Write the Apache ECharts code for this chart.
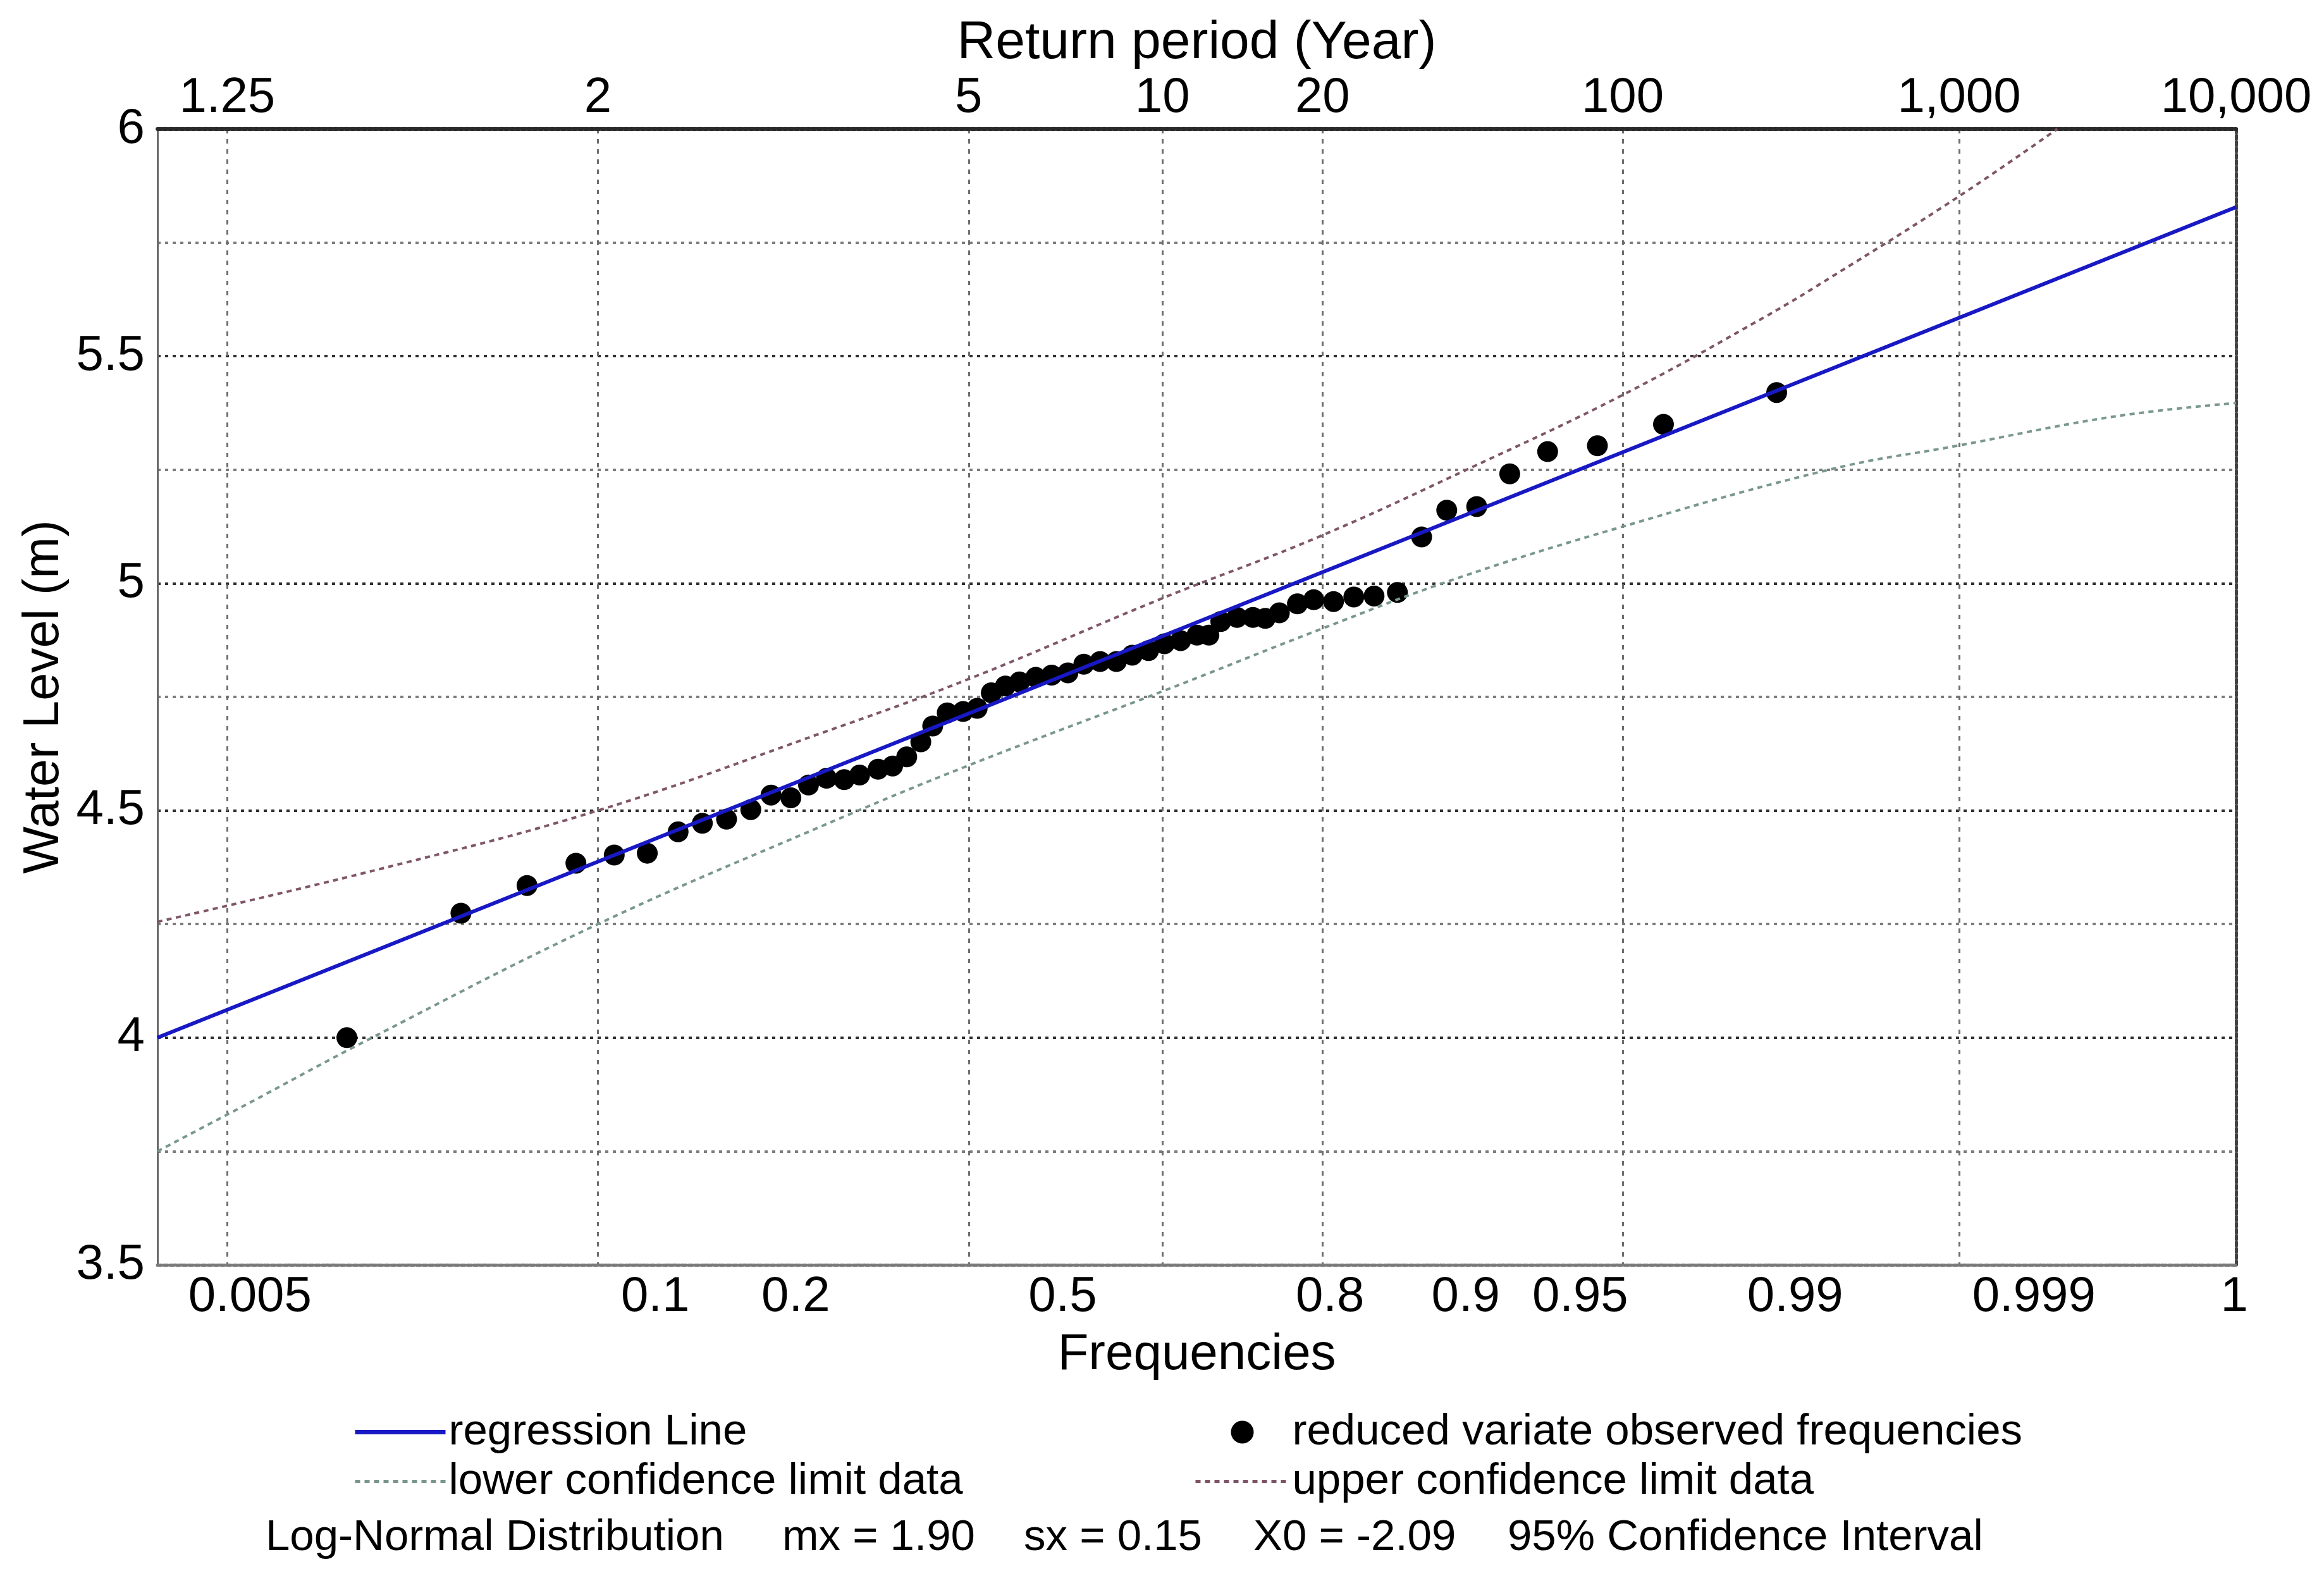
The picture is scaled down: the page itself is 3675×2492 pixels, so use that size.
<!DOCTYPE html>
<html>
<head>
<meta charset="utf-8">
<script src="https://cdn.jsdelivr.net/npm/echarts@6/dist/echarts.min.js"></script>
<style>
html,body{margin:0;padding:0;background:#ffffff;}
#chart{width:3675px;height:2492px;}
</style>
</head>
<body>
<div id="chart"></div>
<script>
// ---------- data (x values are normal reduced variates) ----------
const returnPeriods = [1.25, 2, 5, 10, 20, 100, 1000, 10000];
const returnPeriodLabels = ['1.25', '2', '5', '10', '20', '100', '1,000', '10,000'];
const frequencyLabels = ['0.005', '0.1', '0.2', '0.5', '0.8', '0.9', '0.95', '0.99', '0.999', '1'];
const frequencyLabelPositions = [-0.79, 0.13, 0.449, 1.055, 1.662, 1.97, 2.23, 2.718, 3.26, 3.715];

const observedZ = [-0.570, -0.311, -0.161, -0.050, 0.037, 0.112, 0.182, 0.237, 0.292, 0.347,
  0.393, 0.438, 0.478, 0.519, 0.559, 0.594, 0.636, 0.669, 0.701, 0.733,
  0.760, 0.793, 0.829, 0.861, 0.893, 0.925, 0.957, 0.994, 1.030, 1.067,
  1.103, 1.140, 1.177, 1.213, 1.250, 1.286, 1.323, 1.360, 1.387, 1.414,
  1.451, 1.487, 1.515, 1.547, 1.588, 1.625, 1.670, 1.716, 1.762, 1.815,
  1.870, 1.927, 1.995, 2.070, 2.156, 2.269, 2.419, 2.676];
const observedLevel = [4.000, 4.274, 4.335, 4.384, 4.402, 4.406, 4.453, 4.472, 4.481, 4.502,
  4.534, 4.528, 4.556, 4.571, 4.568, 4.578, 4.591, 4.598, 4.618, 4.651,
  4.686, 4.715, 4.718, 4.725, 4.759, 4.774, 4.783, 4.793, 4.798, 4.803,
  4.822, 4.828, 4.828, 4.842, 4.852, 4.867, 4.874, 4.886, 4.886, 4.916,
  4.925, 4.925, 4.923, 4.935, 4.955, 4.964, 4.960, 4.970, 4.972, 4.980,
  5.102, 5.161, 5.169, 5.241, 5.290, 5.303, 5.350, 5.420];

const regressionZ = [-1.0, 3.719];
const regressionLevel = [4.00, 5.828];

const upperZ = [-1.0, -0.5, 0.0, 0.509, 0.838, 1.286, 1.633, 1.985, 2.323, 2.652, 2.803, 3.087, 3.313];
const upperLevel = [4.255, 4.37, 4.50, 4.671, 4.788, 4.969, 5.101, 5.256, 5.413, 5.588, 5.676, 5.85, 6.0];

const lowerZ = [-1.0, -0.804, -0.523, 0.0, 0.509, 0.838, 1.286, 1.643, 1.941, 2.323, 2.803, 3.087, 3.441, 3.719];
const lowerLevel = [3.75, 3.85, 3.995, 4.25, 4.466, 4.598, 4.764, 4.90, 5.008, 5.124, 5.252, 5.303, 5.367, 5.397];

const footerTexts = ['Log-Normal Distribution', 'mx = 1.90', 'sx = 0.15', 'X0 = -2.09', '95% Confidence Interval'];

// ---------- helpers ----------
function normInv(p) {
  const a = [-3.969683028665376e+01, 2.209460984245205e+02, -2.759285104469687e+02, 1.383577518672690e+02, -3.066479806614716e+01, 2.506628277459239e+00];
  const b = [-5.447609879822406e+01, 1.615858368580409e+02, -1.556989798598866e+02, 6.680131188771972e+01, -1.328068155288572e+01];
  const c = [-7.784894002430293e-03, -3.223964580411365e-01, -2.400758277161838e+00, -2.549732539343734e+00, 4.374664141464968e+00, 2.938163982698783e+00];
  const d = [7.784695709041462e-03, 3.224671290700398e-01, 2.445134137142996e+00, 3.754408661907416e+00];
  const pl = 0.02425, ph = 1 - pl;
  let q, r;
  if (p < pl) {
    q = Math.sqrt(-2 * Math.log(p));
    return (((((c[0]*q+c[1])*q+c[2])*q+c[3])*q+c[4])*q+c[5]) / ((((d[0]*q+d[1])*q+d[2])*q+d[3])*q+1);
  }
  if (p <= ph) {
    q = p - 0.5; r = q * q;
    return (((((a[0]*r+a[1])*r+a[2])*r+a[3])*r+a[4])*r+a[5])*q / (((((b[0]*r+b[1])*r+b[2])*r+b[3])*r+b[4])*r+1);
  }
  q = Math.sqrt(-2 * Math.log(1 - p));
  return -(((((c[0]*q+c[1])*q+c[2])*q+c[3])*q+c[4])*q+c[5]) / ((((d[0]*q+d[1])*q+d[2])*q+d[3])*q+1);
}
const returnPeriodZ = returnPeriods.map(t => normInv(1 - 1 / t));
const X_MIN = -1.0;
const X_MAX = returnPeriodZ[returnPeriodZ.length - 1];

function pairs(xs, ys) { return xs.map((x, i) => [x, ys[i]]); }
function lookup(values, labels, v) {
  for (let i = 0; i < values.length; i++) if (Math.abs(values[i] - v) < 1e-6) return labels[i];
  return '';
}

const FONT = '"Liberation Sans", Arial, sans-serif';
const UPPER_COLOR = '#7f5668';
const LOWER_COLOR = '#7a978d';
const REG_COLOR = '#1818c4';

const chart = echarts.init(document.getElementById('chart'));
const option = {
  animation: false,
  backgroundColor: '#ffffff',
  textStyle: { fontFamily: FONT, color: '#000' },
  grid: { left: 249, right: 139, top: 204, bottom: 492, containLabel: false },
  xAxis: [
    {
      type: 'value', position: 'bottom', min: X_MIN, max: X_MAX,
      name: 'Frequencies', nameLocation: 'middle', nameGap: 103,
      nameTextStyle: { fontSize: 80, color: '#000', fontFamily: FONT },
      axisLine: { show: true, onZero: false, lineStyle: { color: '#7a7a7a', width: 5, type: [6, 4] } },
      axisTick: { show: false, customValues: frequencyLabelPositions },
      axisLabel: {
        customValues: frequencyLabelPositions, fontSize: 78, margin: 12, color: '#000', fontFamily: FONT,
        formatter: v => lookup(frequencyLabelPositions, frequencyLabels, v)
      },
      splitLine: { show: false }
    },
    {
      type: 'value', position: 'top', min: X_MIN, max: X_MAX,
      name: 'Return period (Year)', nameLocation: 'middle', nameGap: 92,
      nameTextStyle: { fontSize: 84, color: '#000', fontFamily: FONT },
      axisLine: { show: true, onZero: false, lineStyle: { color: '#2a2a2a', width: 6, type: [6, 3] } },
      axisTick: { show: false, customValues: returnPeriodZ },
      axisLabel: {
        customValues: returnPeriodZ, fontSize: 78, margin: 10, color: '#000', fontFamily: FONT,
        formatter: v => lookup(returnPeriodZ, returnPeriodLabels, v)
      },
      splitLine: { show: true, lineStyle: { color: '#6e6e6e', width: 3, type: [7, 9] } }
    }
  ],
  yAxis: [
    {
      type: 'value', position: 'left', min: 3.5, max: 6, interval: 0.25,
      name: 'Water Level (m)', nameLocation: 'middle', nameGap: 130, nameRotate: 90,
      nameTextStyle: { fontSize: 79, color: '#000', fontFamily: FONT },
      axisLine: { show: true, onZero: false, lineStyle: { color: '#6a6a6a', width: 3 } },
      axisTick: { show: false },
      axisLabel: {
        fontSize: 78, margin: 20, color: '#000', fontFamily: FONT,
        formatter: v => (Math.abs(v * 2 - Math.round(v * 2)) < 1e-9 ? String(v) : '')
      },
      splitLine: { show: true, lineStyle: { color: ['#2e2e2e', '#7c7c7c'], width: 4, type: [5, 7] } }
    },
    {
      type: 'value', position: 'right', min: 3.5, max: 6, interval: 0.25,
      axisLine: { show: true, onZero: false, lineStyle: { color: '#444', width: 5, type: [6, 4] } },
      axisTick: { show: false }, axisLabel: { show: false }, splitLine: { show: false }
    }
  ],
  legend: [
    {
      data: [
        { name: 'regression Line', itemStyle: { opacity: 0 }, lineStyle: { width: 7 } },
        { name: 'lower confidence limit data', itemStyle: { opacity: 0 }, lineStyle: { width: 5 } }
      ],
      orient: 'vertical', left: 553, top: 2225,
      itemWidth: 143, itemHeight: 34, itemGap: 9,
      textStyle: { fontSize: 69, lineHeight: 69, color: '#000', fontFamily: FONT }
    },
    {
      data: [
        { name: 'reduced variate observed frequencies' },
        { name: 'upper confidence limit data', itemStyle: { opacity: 0 }, lineStyle: { width: 5 } }
      ],
      orient: 'vertical', left: 1883, top: 2225,
      itemWidth: 148, itemHeight: 36, itemGap: 9,
      textStyle: { fontSize: 69, lineHeight: 69, color: '#000', fontFamily: FONT }
    }
  ],
  graphic: [
    { type: 'text', x: 420, y: 2432, style: { text: footerTexts[0], font: '69px ' + FONT, fill: '#000', verticalAlign: 'middle' } },
    { type: 'text', x: 1237, y: 2432, style: { text: footerTexts[1], font: '69px ' + FONT, fill: '#000', verticalAlign: 'middle' } },
    { type: 'text', x: 1619, y: 2432, style: { text: footerTexts[2], font: '69px ' + FONT, fill: '#000', verticalAlign: 'middle' } },
    { type: 'text', x: 1982, y: 2432, style: { text: footerTexts[3], font: '69px ' + FONT, fill: '#000', verticalAlign: 'middle' } },
    { type: 'text', x: 2384, y: 2432, style: { text: footerTexts[4], font: '69px ' + FONT, fill: '#000', verticalAlign: 'middle' } }
  ],
  series: [
    {
      name: 'upper confidence limit data', type: 'line', xAxisIndex: 0, yAxisIndex: 0,
      data: pairs(upperZ, upperLevel), smooth: 0.4, symbol: 'none', showSymbol: false, clip: true,
      lineStyle: { color: UPPER_COLOR, width: 4, type: [8, 7] }, itemStyle: { color: UPPER_COLOR }
    },
    {
      name: 'lower confidence limit data', type: 'line', xAxisIndex: 0, yAxisIndex: 0,
      data: pairs(lowerZ, lowerLevel), smooth: 0.4, symbol: 'none', showSymbol: false, clip: true,
      lineStyle: { color: LOWER_COLOR, width: 4, type: [8, 7] }, itemStyle: { color: LOWER_COLOR }
    },
    {
      name: 'regression Line', type: 'line', xAxisIndex: 0, yAxisIndex: 0,
      data: pairs(regressionZ, regressionLevel), symbol: 'none', showSymbol: false,
      lineStyle: { color: REG_COLOR, width: 6 }, itemStyle: { color: REG_COLOR }
    },
    {
      name: 'reduced variate observed frequencies', type: 'scatter', xAxisIndex: 0, yAxisIndex: 0,
      data: pairs(observedZ, observedLevel), symbol: 'circle', symbolSize: 33,
      itemStyle: { color: '#000', opacity: 1 }
    }
  ]
};
chart.setOption(option);
</script>
</body>
</html>
